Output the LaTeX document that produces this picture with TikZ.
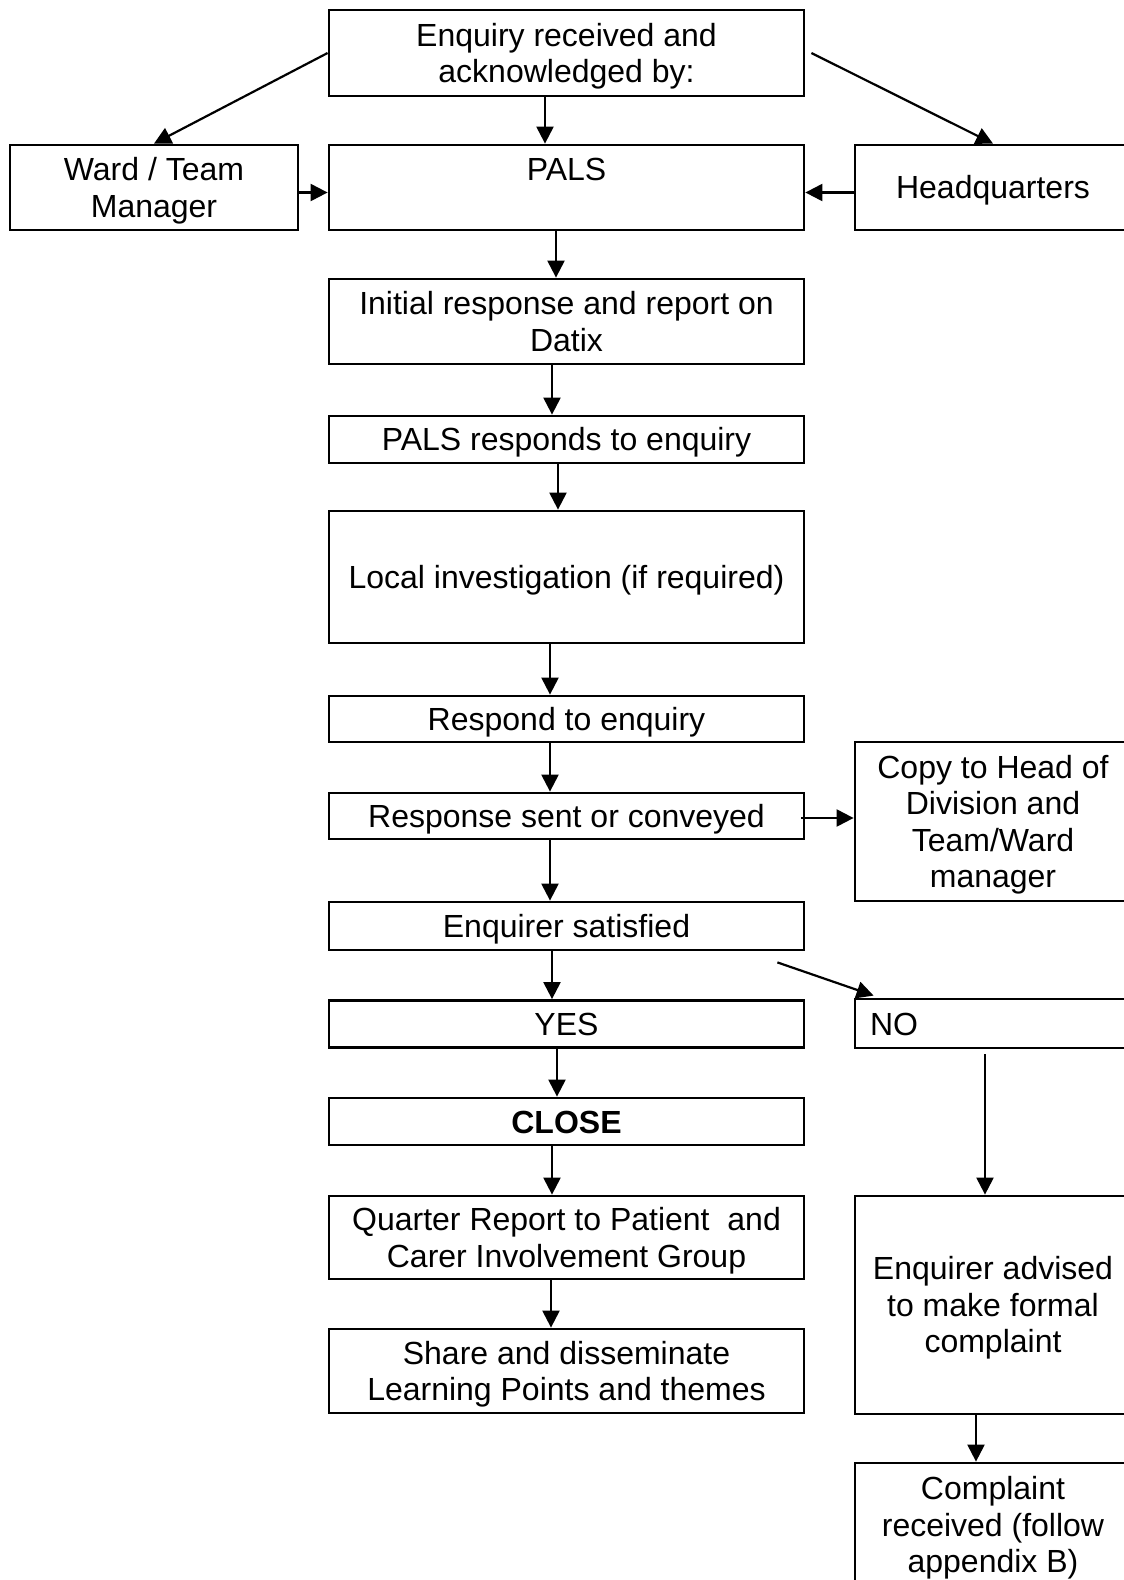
\documentclass[tikz,border=0pt]{standalone}
\usepackage{fontspec}
\setmainfont{Liberation Sans}
\usetikzlibrary{arrows.meta}
\newcommand{\boxstrut}{\rule[-6.5pt]{0pt}{36pt}}
\begin{document}
\begin{tikzpicture}[x=1pt,y=-1pt,
  box/.style={draw,line width=2.8pt,inner sep=0pt,align=flush center,
    font=\fontsize{32}{36.5}\selectfont},
  mid/.style={box,minimum width=475pt,text width=475pt},
  side/.style={box,minimum width=276pt,text width=276pt},
  arr/.style={line width=2.2pt,-{Triangle[length=17pt,width=17pt]}}]
\useasboundingbox (0,0) rectangle (1124,1580);
\clip (0,0) rectangle (1124,1580);

\node[mid,minimum height=86pt] (top) at (566.5,53) {\boxstrut Enquiry received and\\acknowledged by:\boxstrut};
\node[box,minimum width=288pt,text width=288pt,minimum height=85pt] (ward) at (154,187.5) {\boxstrut Ward / Team\\Manager\boxstrut};
\node[mid,minimum height=85pt] (pals) at (566.5,187.5) {\boxstrut PALS\\\boxstrut};
\node[side,minimum height=85pt] (hq) at (993,187.5) {\boxstrut Headquarters\boxstrut};
\node[mid,minimum height=85pt] (init) at (566.5,321.5) {\boxstrut Initial response and report on\\Datix\boxstrut};
\node[mid,minimum height=47pt] (palsresp) at (566.5,439.5) {\boxstrut PALS responds to enquiry\boxstrut};
\node[mid,minimum height=132pt] (local) at (566.5,577) {\boxstrut Local investigation (if required)\boxstrut};
\node[mid,minimum height=46pt] (respond) at (566.5,719) {\boxstrut Respond to enquiry\boxstrut};
\node[mid,minimum height=46pt] (sent) at (566.5,816) {\boxstrut Response sent or conveyed\boxstrut};
\node[side,minimum height=159pt] (copy) at (993,821.5) {\boxstrut Copy to Head of\\Division and\\Team/Ward\\manager\boxstrut};
\node[mid,minimum height=48pt] (enq) at (566.5,926) {\boxstrut Enquirer satisfied\boxstrut};
\node[mid,minimum height=47pt] (yes) at (566.5,1024) {\boxstrut YES\boxstrut};
\node[side,minimum height=49pt,text width=246pt,inner xsep=15pt,align=flush left] (no) at (993,1023.5) {\boxstrut NO\boxstrut};
\node[mid,minimum height=47pt] (close) at (566.5,1121.5) {\boxstrut\textbf{CLOSE}\boxstrut};
\node[mid,minimum height=83pt] (quarter) at (566.5,1237.5) {\boxstrut Quarter Report to Patient\ \ and\\Carer Involvement Group\boxstrut};
\node[mid,minimum height=84pt] (share) at (566.5,1371) {\boxstrut Share and disseminate\\Learning Points and themes\boxstrut};
\node[side,minimum height=218pt] (advised) at (993,1305) {\boxstrut Enquirer advised\\to make formal\\complaint\boxstrut};
\node[side,minimum height=124pt] (complaint) at (993,1525) {\boxstrut Complaint\\received (follow\\appendix B)\boxstrut};

\draw[arr] (top.west) -- (ward.north);
\draw[arr] ([xshift=6pt]top.east) -- (hq.north);
\draw[arr] ([xshift=-21.5pt]top.south) -- ([xshift=-21.5pt]pals.north);
\draw[arr] ([yshift=-5pt]ward.east) -- ([yshift=-5pt]pals.west);
\draw[arr] ([yshift=-5pt]hq.west) -- ([yshift=-5pt]pals.east);
\draw[arr] ([xshift=-10.5pt]pals.south) -- ([xshift=-10.5pt]init.north);
\draw[arr] ([xshift=-14.5pt]init.south) -- ([xshift=-14.5pt]palsresp.north);
\draw[arr] ([xshift=-8.5pt]palsresp.south) -- ([xshift=-8.5pt]local.north);
\draw[arr] ([xshift=-16.5pt]local.south) -- ([xshift=-16.5pt]respond.north);
\draw[arr] ([xshift=-16.5pt]respond.south) -- ([xshift=-16.5pt]sent.north);
\coordinate (c1) at ([xshift=-4pt,yshift=-2pt]sent.east);
\draw[arr] (c1) -- (c1 -| copy.west);
\draw[arr] ([xshift=-16.5pt]sent.south) -- ([xshift=-16.5pt]enq.north);
\draw[arr] ([xshift=-14.5pt]enq.south) -- ([xshift=-14.5pt]yes.north);
\draw[arr] ([xshift=-28pt,yshift=-11pt]enq.south east) -- ([xshift=20pt,yshift=2pt]no.north west);
\draw[arr] ([xshift=-9.5pt]yes.south) -- ([xshift=-9.5pt]close.north);
\draw[arr] ([xshift=-14.5pt]close.south) -- ([xshift=-14.5pt]quarter.north);
\draw[arr] ([xshift=-15.5pt]quarter.south) -- ([xshift=-15.5pt]share.north);
\draw[arr] ([xshift=-8pt,yshift=-5pt]no.south) -- ([xshift=-8pt]advised.north);
\draw[arr] ([xshift=-17pt]advised.south) -- ([xshift=-17pt]complaint.north);
\end{tikzpicture}
\end{document}
